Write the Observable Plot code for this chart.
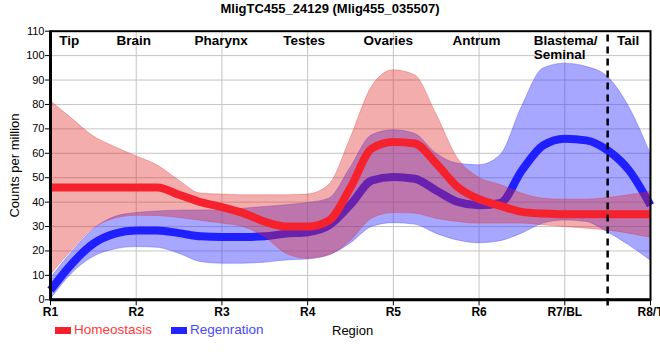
<!DOCTYPE html>
<html><head><meta charset="utf-8">
<script src="https://cdn.jsdelivr.net/npm/d3@7"></script>
<script src="https://cdn.jsdelivr.net/npm/@observablehq/plot@0.6"></script>
<style>
body{margin:0;background:#fff;font-family:Arial,"Liberation Sans",sans-serif;}
#wrap{position:relative;width:660px;height:360px;overflow:hidden;background:#fff;}
#title{height:20px;line-height:17px;text-align:center;font-weight:bold;font-size:13px;color:#000;}
#chart svg{display:block;}
.lg{position:absolute;font-size:13.5px;white-space:nowrap;line-height:14px;}
.sw{position:absolute;width:16px;height:7px;}
</style></head>
<body>
<div id="wrap">
<div id="title">MligTC455_24129 (Mlig455_035507)</div>
<div id="chart"></div>
<div class="sw" style="left:55px;top:327px;background:#f5222d"></div>
<div class="lg" style="left:74px;top:323px;color:#ff3838">Homeostasis</div>
<div class="sw" style="left:171px;top:327px;background:#2323ff"></div>
<div class="lg" style="left:190px;top:323px;color:#4848ff">Regenration</div>
<div class="lg" style="left:332px;top:324px;color:#000;font-size:13px">Region</div>
</div>
<script>
const regions = ["R1","R2","R3","R4","R5","R6","R7/BL","R8/T"];
const regionPos = [1,2,3,4,5,6,7,8];
const tissues = ["Tip","Brain","Pharynx","Testes","Ovaries","Antrum","Blastema/\nSeminal","Tail"];
const tissuePos = [1.22,1.97,2.99,3.96,4.94,5.97,7.0,7.74];
const separators = [7.5];
const yTicks = [0,10,20,30,40,50,60,70,80,90,100,110];

const pos = [1,1.25,1.5,1.75,2,2.25,2.5,2.75,3,3.25,3.5,3.75,4,4.25,4.5,4.75,5,5.25,5.5,5.75,6,6.25,6.5,6.75,7,7.25,7.5,7.75,8];
const homeo   = [46,46,46,46,46,46,43,40,38,35.5,32,30,30,32.5,46,62,64.6,64,55.8,46.2,41.2,38.5,36,35.3,35,35,35,35,35];
const homeoHi = [81.4,74.2,67,62.6,58.8,55,48.9,43.5,43.1,42.8,42.8,42.8,43.1,47,66,87.2,94,92,76.2,58,50,47,43.5,41.4,41,41,41.7,42.8,44.1];
const homeoLo = [10,20.2,29.1,33.2,34.4,34.3,33.5,32.4,31.2,29.8,25.7,18.9,16.8,18.2,24,33.2,35.5,35.3,33.2,31.9,31.2,31.2,31.2,30.5,29.8,29.1,28.4,27.1,25.4];
const regen   = [4,14.8,23,27.1,28.4,28.4,27.3,26,25.7,25.7,26,27.1,27.7,30.5,39,48.9,50.3,49.6,44.8,40.1,38.7,39.7,53,63.3,66,65.3,61.2,53,38.7];
const regenHi = [8.6,19.5,28.7,33.9,35.5,36.2,36.5,36.6,36.6,37.3,38,38.7,39.6,41.4,54,67.4,69.4,68,59.9,55.8,55.1,59.2,79,94.7,96.7,95.4,91.3,79,59.9];
const regenLo = [0,10.7,17.5,20.6,21.6,21.3,18.9,15.5,14.8,14.8,15.2,16.1,16.5,18.2,23,29.8,31.4,30.8,27.1,24.3,23.2,24,27.1,31.2,32.5,31.9,27.7,22.3,16.1];

const H = pos.map((x,i)=>({x, y:homeo[i], lo:homeoLo[i], hi:homeoHi[i]}));
const R = pos.map((x,i)=>({x, y:regen[i], lo:regenLo[i], hi:regenHi[i]}));
const labels = tissues.map((name,i)=>({name, x:tissuePos[i]}));

const chart = Plot.plot({
  width:660, height:300,
  marginTop:10.7, marginBottom:20.7, marginLeft:50, marginRight:10,
  x:{domain:[1,8]},
  y:{domain:[0,110]},
  style:{fontFamily:'Arial,"Liberation Sans",sans-serif', fontSize:"11px", background:"white", color:"black", overflow:"visible"},
  marks:[
    Plot.ruleY(yTicks, {stroke:"#c4c4c4", strokeWidth:1}),
    Plot.ruleX(regionPos, {stroke:"#c4c4c4", strokeWidth:1}),
    Plot.areaY(R, {x:"x", y1:"lo", y2:"hi", curve:"monotone-x", fill:"#3c3cff", fillOpacity:0.45, stroke:"#3c3cff", strokeOpacity:0.35, strokeWidth:1}),
    Plot.line(R, {x:"x", y:"y", curve:"monotone-x", stroke:"#1f1fff", strokeWidth:8, strokeLinecap:"butt"}),
    Plot.areaY(H, {x:"x", y1:"lo", y2:"hi", curve:"monotone-x", fill:"#e02828", fillOpacity:0.38, stroke:"#e02828", strokeOpacity:0.3, strokeWidth:1}),
    Plot.line(H, {x:"x", y:"y", curve:"monotone-x", stroke:"#f5222d", strokeWidth:8, strokeLinecap:"butt"}),
    Plot.ruleX(separators, {y1:-2.5, y2:110, stroke:"black", strokeWidth:2.5, strokeDasharray:"7,5"}),
    Plot.frame({stroke:"black", strokeWidth:2}),
    Plot.ruleX([1], {stroke:"black", strokeWidth:3}),
    Plot.ruleY([0], {stroke:"black", strokeWidth:3}),
    Plot.axisX({ticks:regionPos, tickFormat:d=>regions[d-1], tickSize:6, tickPadding:2, fontWeight:"bold", fontSize:12, label:null}),
    Plot.axisY({ticks:yTicks, tickSize:5, tickPadding:1, fontSize:11, label:null}),
    Plot.text(["Counts per million"], {frameAnchor:"left", textAnchor:"middle", rotate:-90, dx:-36, fontSize:13}),
    Plot.text(labels.filter(d=>!d.name.includes("\n")), {x:"x", text:"name", frameAnchor:"top", lineAnchor:"top", dy:4, fontWeight:"bold", fontSize:13.5}),
    Plot.text(labels.filter(d=>d.name.includes("\n")), {x:"x", text:"name", frameAnchor:"top", lineAnchor:"top", dy:4, dx:-31, textAnchor:"start", lineHeight:1.05, fontWeight:"bold", fontSize:13.5})
  ]
});
document.getElementById("chart").appendChild(chart);
</script>
</body></html>
